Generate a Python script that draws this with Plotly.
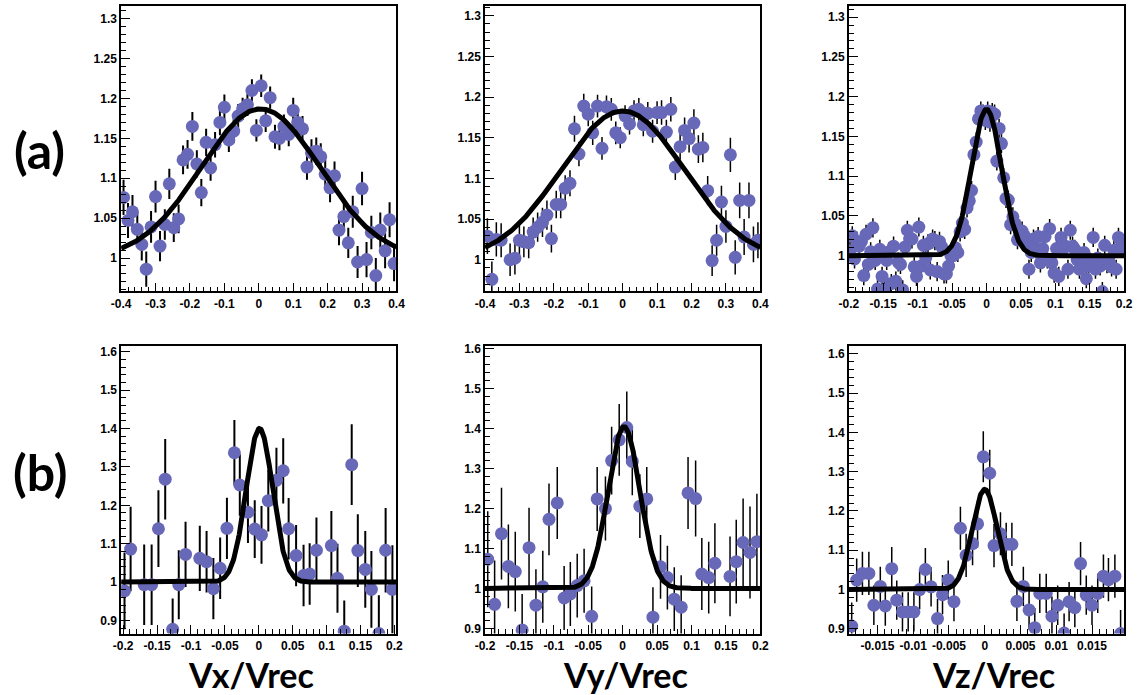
import numpy as np
import plotly.graph_objects as go

# ---------------- data ----------------
# Panel (a) Vx
x1 = [-0.393, -0.380, -0.367, -0.353, -0.340, -0.327, -0.313, -0.300, -0.287, -0.273,
      -0.260, -0.247, -0.233, -0.220, -0.207, -0.193, -0.180, -0.167, -0.153, -0.140,
      -0.127, -0.113, -0.100, -0.087, -0.073, -0.060, -0.047, -0.033, -0.020, -0.007,
      0.007, 0.020, 0.033, 0.047, 0.060, 0.073, 0.087, 0.100, 0.113, 0.127,
      0.140, 0.153, 0.167, 0.180, 0.193, 0.207, 0.220, 0.233, 0.247, 0.260,
      0.273, 0.287, 0.300, 0.313, 0.327, 0.340, 0.353, 0.367, 0.380, 0.393]
y1 = [1.076, 1.047, 1.058, 1.036, 1.017, 0.986, 1.039, 1.077, 1.015, 1.042,
      1.093, 1.038, 1.049, 1.123, 1.130, 1.165, 1.118, 1.082, 1.145, 1.113,
      1.142, 1.170, 1.189, 1.148, 1.159, 1.178, 1.187, 1.192, 1.210, 1.160,
      1.216, 1.172, 1.201, 1.152, 1.150, 1.165, 1.155, 1.185, 1.170, 1.162,
      1.114, 1.132, 1.134, 1.127, 1.105, 1.088, 1.103, 1.035, 1.052, 1.019,
      1.058, 0.995, 1.087, 0.998, 1.032, 0.978, 1.035, 1.009, 1.048, 0.993]
e1 = [0.022, 0.022, 0.021, 0.021, 0.020, 0.022, 0.020, 0.020, 0.019, 0.019,
      0.019, 0.018, 0.018, 0.018, 0.018, 0.018, 0.017, 0.017, 0.017, 0.016,
      0.016, 0.016, 0.016, 0.015, 0.015, 0.015, 0.014, 0.014, 0.014, 0.014,
      0.014, 0.014, 0.014, 0.015, 0.015, 0.015, 0.015, 0.016, 0.016, 0.016,
      0.016, 0.017, 0.017, 0.017, 0.018, 0.018, 0.018, 0.019, 0.019, 0.019,
      0.020, 0.020, 0.021, 0.022, 0.021, 0.022, 0.022, 0.022, 0.022, 0.022]

# Panel (a) Vy
x2 = [-0.393, -0.380, -0.367, -0.353, -0.327, -0.313, -0.300, -0.287, -0.273,
      -0.260, -0.247, -0.233, -0.220, -0.207, -0.193, -0.180, -0.167, -0.153, -0.140,
      -0.127, -0.113, -0.100, -0.087, -0.073, -0.060, -0.047, -0.033, -0.020, -0.007,
      0.007, 0.020, 0.033, 0.047, 0.060, 0.073, 0.087, 0.100, 0.113, 0.127,
      0.140, 0.153, 0.167, 0.180, 0.193, 0.207, 0.220, 0.233, 0.247, 0.260,
      0.273, 0.287, 0.300, 0.313, 0.327, 0.340, 0.353, 0.367, 0.380, 0.393]
y2 = [1.029, 0.976, 1.025, 1.024, 1.000, 1.002, 1.024, 1.022, 1.021, 1.034,
      1.040, 1.046, 1.055, 1.026, 1.068, 1.068, 1.088, 1.094, 1.161, 1.130,
      1.189, 1.179, 1.156, 1.189, 1.137, 1.188, 1.185, 1.156, 1.150, 1.177,
      1.167, 1.183, 1.185, 1.166, 1.180, 1.158, 1.181, 1.181, 1.157, 1.185,
      1.114, 1.139, 1.159, 1.149, 1.168, 1.136, 1.138, 1.085, 0.999, 1.024,
      1.071, 1.041, 1.129, 1.003, 1.073, 1.028, 1.073, 1.019, 1.024]
e2 = [0.022, 0.022, 0.021, 0.021, 0.020, 0.020, 0.019, 0.019, 0.019, 0.018,
      0.018, 0.018, 0.018, 0.017, 0.017, 0.017, 0.016, 0.016, 0.016, 0.015,
      0.015, 0.015, 0.015, 0.014, 0.014, 0.014, 0.014, 0.014, 0.013, 0.013,
      0.013, 0.013, 0.014, 0.014, 0.014, 0.014, 0.014, 0.015, 0.015, 0.015,
      0.016, 0.016, 0.016, 0.017, 0.017, 0.017, 0.018, 0.018, 0.019, 0.019,
      0.020, 0.020, 0.021, 0.021, 0.022, 0.022, 0.022, 0.022, 0.022]

# Panel (a) Vz
x3 = [-0.1983, -0.1950, -0.1917, -0.1883, -0.1850, -0.1817, -0.1783, -0.1750, -0.1717, -0.1683,
      -0.1650, -0.1617, -0.1583, -0.1550, -0.1517, -0.1483, -0.1450, -0.1417, -0.1383, -0.1350,
      -0.1317, -0.1283, -0.1250, -0.1217, -0.1183, -0.1150, -0.1117, -0.1083, -0.1050, -0.1017,
      -0.0983, -0.0950, -0.0917, -0.0883, -0.0850, -0.0817, -0.0783, -0.0750, -0.0717, -0.0683,
      -0.0650, -0.0617, -0.0583, -0.0550, -0.0517, -0.0483, -0.0450, -0.0417, -0.0383, -0.0350,
      -0.0317, -0.0283, -0.0250, -0.0217, -0.0183, -0.0150, -0.0117, -0.0083, -0.0050, -0.0017,
      0.0017, 0.0050, 0.0083, 0.0117, 0.0150, 0.0183, 0.0217, 0.0250, 0.0283, 0.0317,
      0.0350, 0.0383, 0.0417, 0.0450, 0.0483, 0.0517, 0.0550, 0.0583, 0.0617, 0.0650,
      0.0683, 0.0717, 0.0750, 0.0783, 0.0817, 0.0850, 0.0883, 0.0917, 0.0950, 0.0983,
      0.1017, 0.1050, 0.1083, 0.1117, 0.1150, 0.1183, 0.1217, 0.1250, 0.1283, 0.1317,
      0.1350, 0.1383, 0.1417, 0.1450, 0.1483, 0.1517, 0.1550, 0.1583, 0.1617, 0.1650,
      0.1683, 0.1717, 0.1750, 0.1783, 0.1817, 0.1850, 0.1883, 0.1917, 0.1950, 0.1983]
y3 = [1.006, 1.025, 0.996, 1.018, 1.012, 1.018, 0.975, 1.027, 0.989, 1.005,
      1.035, 0.994, 0.958, 1.008, 0.974, 0.957, 0.994, 1.005, 0.965, 1.012,
      0.968, 0.992, 0.989, 0.957, 1.011, 1.032, 1.021, 1.021, 0.986, 0.974,
      1.036, 0.987, 1.013, 0.997, 1.015, 0.982, 1.021, 1.019, 0.980, 1.018,
      1.011, 0.977, 0.977, 0.987, 1.000, 1.000, 1.010, 1.004, 1.030, 1.041,
      1.033, 1.060, 1.069, 1.082, 1.127, 1.143, 1.172, 1.182, 1.178, 1.170,
      1.182, 1.168, 1.180, 1.178, 1.119, 1.160, 1.141, 1.098, 1.072, 1.070,
      1.039, 1.049, 1.040, 1.020, 1.027, 1.031,
      1.025, 1.015, 0.983, 1.004, 1.021, 1.009, 1.024, 0.991, 1.009, 1.024,
      0.996, 1.034, 0.991, 0.978, 1.009, 0.974, 1.023, 1.009, 1.012, 0.983,
      1.032, 1.012, 1.008, 0.995, 0.983, 0.997, 1.004, 0.971, 0.987, 0.991,
      1.023, 0.983, 0.997, 0.987, 0.955, 1.013, 0.990, 0.991, 0.986, 1.007,
      0.983, 1.023, 1.011, 1.009]
e3 = 0.012

# Panel (b) Vx
x4 = [-0.198, -0.189, -0.169, -0.158, -0.148, -0.138, -0.127, -0.118, -0.108, -0.087,
      -0.077, -0.067, -0.057, -0.047, -0.036, -0.028, -0.016, -0.006, 0.004, 0.014,
      0.026, 0.036, 0.044, 0.055, 0.066, 0.075, 0.085, 0.107, 0.116, 0.126,
      0.137, 0.146, 0.157, 0.166, 0.177, 0.187, 0.197]
y4 = [0.977, 1.086, 0.993, 0.993, 1.139, 1.268, 0.877, 0.993, 1.072, 1.062,
      1.053, 0.983, 1.036, 1.140, 1.337, 1.253, 1.182, 1.138, 1.123, 1.212,
      1.265, 1.290, 1.139, 1.069, 1.017, 1.021, 1.083, 1.095, 1.010, 0.872,
      1.306, 1.082, 1.033, 0.981, 0.866, 1.083, 0.981]
e4 = [0.100, 0.110, 0.105, 0.105, 0.100, 0.105, 0.080, 0.090, 0.085, 0.085,
      0.080, 0.080, 0.080, 0.080, 0.085, 0.080, 0.080, 0.075, 0.075, 0.080,
      0.085, 0.085, 0.080, 0.080, 0.080, 0.080, 0.085, 0.090, 0.090, 0.080,
      0.105, 0.095, 0.100, 0.100, 0.100, 0.110, 0.115]

# Panel (b) Vy
x5 = [-0.196, -0.186, -0.176, -0.166, -0.156, -0.146, -0.136, -0.126, -0.116, -0.107,
      -0.095, -0.085, -0.076, -0.066, -0.056, -0.045, -0.037, -0.025, -0.016, -0.005,
      0.006, 0.014, 0.025, 0.035, 0.044, 0.055, 0.065, 0.075, 0.085, 0.095,
      0.106, 0.115, 0.125, 0.134, 0.156, 0.165, 0.175, 0.185, 0.195]
y5 = [1.073, 0.960, 1.137, 1.055, 1.042, 0.896, 1.102, 0.958, 1.004, 1.173,
      1.214, 0.976, 0.986, 1.007, 1.019, 0.930, 1.224, 1.200, 1.320, 1.372,
      1.403, 1.318, 1.206, 1.224, 0.928, 1.054, 1.027, 0.973, 0.953, 1.239,
      1.225, 1.036, 1.027, 1.063, 1.030, 1.067, 1.115, 1.090, 1.117]
e5 = [0.120, 0.110, 0.115, 0.105, 0.100, 0.090, 0.100, 0.090, 0.090, 0.090,
      0.090, 0.080, 0.080, 0.080, 0.080, 0.075, 0.080, 0.080, 0.085, 0.090,
      0.090, 0.085, 0.080, 0.080, 0.075, 0.080, 0.080, 0.080, 0.080, 0.090,
      0.095, 0.090, 0.090, 0.100, 0.100, 0.105, 0.110, 0.115, 0.120]

# Panel (b) Vz
x6 = [-0.0186, -0.0179, -0.0171, -0.0162, -0.0155, -0.0146, -0.0139, -0.0130, -0.0123, -0.0115,
      -0.0107, -0.0099, -0.0091, -0.0083, -0.0075, -0.0066, -0.0059, -0.0051, -0.0043, -0.0034,
      -0.0026, -0.0017, -0.0010, -0.0002, 0.0007, 0.0013, 0.0022, 0.0030, 0.0038, 0.0045,
      0.0054, 0.0062, 0.0070, 0.0077, 0.0086, 0.0094, 0.0102, 0.0111, 0.0118, 0.0126,
      0.0134, 0.0142, 0.0150, 0.0158, 0.0166, 0.0173, 0.0182, 0.0190]
y6 = [0.907, 1.024, 1.041, 1.041, 0.960, 1.008, 0.958, 1.053, 0.973, 0.943,
      0.943, 0.943, 1.000, 1.051, 1.007, 0.926, 0.987, 1.024, 0.969, 1.156,
      1.087, 1.117, 1.167, 1.338, 1.296, 1.112, 1.142, 1.115, 1.115, 0.970,
      1.008, 0.948, 0.903, 0.990, 0.990, 0.932, 0.960, 0.889, 0.969, 0.954,
      1.066, 0.986, 0.960, 0.990, 1.034, 1.025, 1.034, 0.888]
e6 = [0.060, 0.055, 0.055, 0.055, 0.050, 0.050, 0.050, 0.055, 0.050, 0.050,
      0.050, 0.050, 0.050, 0.055, 0.050, 0.050, 0.050, 0.050, 0.050, 0.055,
      0.055, 0.055, 0.060, 0.065, 0.060, 0.055, 0.055, 0.055, 0.055, 0.050,
      0.050, 0.050, 0.050, 0.050, 0.050, 0.050, 0.050, 0.050, 0.050, 0.050,
      0.055, 0.050, 0.050, 0.050, 0.055, 0.055, 0.055, 0.060]

# Gaussian fit parameters: (amplitude, mean, sigma), baseline 1
fit1 = (0.187, 0.005, 0.173)
fit2 = (0.183, 0.000, 0.179)
fit3 = (0.184, 0.000, 0.0218)
fit4 = (0.400, 0.001, 0.0195)
fit5 = (0.405, 0.002, 0.0230)
fit6 = (0.255, 0.000, 0.00175)

# tick values / labels
xt_wide = [-0.4, -0.3, -0.2, -0.1, 0, 0.1, 0.2, 0.3, 0.4]
xt_wide_lab = ["-0.4", "-0.3", "-0.2", "-0.1", "0", "0.1", "0.2", "0.3", "0.4"]
xt_mid = [-0.2, -0.15, -0.1, -0.05, 0, 0.05, 0.1, 0.15, 0.2]
xt_mid_lab = ["-0.2", "-0.15", "-0.1", "-0.05", "0", "0.05", "0.1", "0.15", "0.2"]
xt_z = [-0.015, -0.01, -0.005, 0, 0.005, 0.01, 0.015]
xt_z_lab = ["-0.015", "-0.01", "-0.005", "0", "0.005", "0.01", "0.015"]
yt_top = [1.0, 1.05, 1.1, 1.15, 1.2, 1.25, 1.3]
yt_top_lab = ["1", "1.05", "1.1", "1.15", "1.2", "1.25", "1.3"]
yt_bot = [0.9, 1.0, 1.1, 1.2, 1.3, 1.4, 1.5, 1.6]
yt_bot_lab = ["0.9", "1", "1.1", "1.2", "1.3", "1.4", "1.5", "1.6"]

row_labels = ["(a)", "(b)"]
col_titles = ["Vx/Vrec", "Vy/Vrec", "Vz/Vrec"]

# ---------------- layout geometry ----------------
W, H = 1144, 695
col_px = [(113, 393), (483, 763), (853, 1133)]
row_px = [(2, 290), (345, 635)]

panels = [
    dict(x=x1, y=y1, e=e1, fit=fit1, xr=[-0.4, 0.4], yr=[0.958, 1.316],
         xt=(xt_wide, xt_wide_lab, 0.02), yt=(yt_top, yt_top_lab, 0.01), r=0, c=0, th=2.0),
    dict(x=x2, y=y2, e=e2, fit=fit2, xr=[-0.4, 0.4], yr=[0.961, 1.312],
         xt=(xt_wide, xt_wide_lab, 0.02), yt=(yt_top, yt_top_lab, 0.01), r=0, c=1, th=1.5),
    dict(x=x3, y=y3, e=e3, fit=fit3, xr=[-0.2, 0.2], yr=[0.955, 1.314],
         xt=(xt_mid, xt_mid_lab, 0.01), yt=(yt_top, yt_top_lab, 0.01), r=0, c=2, th=1.5),
    dict(x=x4, y=y4, e=e4, fit=fit4, xr=[-0.203, 0.203], yr=[0.866, 1.615],
         xt=(xt_mid, xt_mid_lab, 0.01), yt=(yt_bot, yt_bot_lab, 0.02), r=1, c=0, th=2.0),
    dict(x=x5, y=y5, e=e5, fit=fit5, xr=[-0.2, 0.2], yr=[0.887, 1.607],
         xt=(xt_mid, xt_mid_lab, 0.01), yt=(yt_bot, yt_bot_lab, 0.02), r=1, c=1, th=1.5),
    dict(x=x6, y=y6, e=e6, fit=fit6, xr=[-0.019, 0.0195], yr=[0.888, 1.62],
         xt=(xt_z, xt_z_lab, 0.001), yt=(yt_bot, yt_bot_lab, 0.02), r=1, c=2, th=1.5),
]

fig = go.Figure()
tickfont = dict(family="Liberation Sans, Arial, sans-serif", size=12, color="black", weight="bold")
marker_color = "#6868b8"

layout_axes = {}
for i, p in enumerate(panels, start=1):
    xa = "x" if i == 1 else f"x{i}"
    ya = "y" if i == 1 else f"y{i}"
    err = dict(type="data", color="black", thickness=p["th"], width=0)
    if isinstance(p["e"], list):
        err["array"] = p["e"]
    else:
        err["value"] = p["e"]
        err["type"] = "constant"
    fig.add_trace(go.Scatter(x=p["x"], y=p["y"], mode="markers", xaxis=xa, yaxis=ya,
                             marker=dict(size=13, color=marker_color, line=dict(width=0)),
                             error_y=err, showlegend=False, hoverinfo="x+y"))
    A, mu, sg = p["fit"]
    xf = np.linspace(p["xr"][0], p["xr"][1], 600)
    yf = 1.0 + A * np.exp(-(xf - mu) ** 2 / (2 * sg ** 2))
    fig.add_trace(go.Scatter(x=xf, y=yf, mode="lines", xaxis=xa, yaxis=ya,
                             line=dict(color="black", width=5), showlegend=False,
                             hoverinfo="skip"))
    c0, c1 = col_px[p["c"]]
    r0, r1 = row_px[p["r"]]
    common = dict(showline=True, linecolor="black", linewidth=1.5, mirror=True,
                  ticks="inside", ticklen=9, tickwidth=1, tickcolor="black",
                  showgrid=False, zeroline=False, tickfont=tickfont, tickmode="array",
                  fixedrange=True)
    xkey = "xaxis" if i == 1 else f"xaxis{i}"
    ykey = "yaxis" if i == 1 else f"yaxis{i}"
    layout_axes[xkey] = dict(common, domain=[c0 / W, c1 / W], range=p["xr"], anchor=ya,
                             tickvals=p["xt"][0], ticktext=p["xt"][1],
                             minor=dict(ticks="inside", ticklen=5, tickwidth=1, tickcolor="black",
                                        dtick=p["xt"][2], tick0=0, showgrid=False))
    layout_axes[ykey] = dict(common, domain=[1 - r1 / H, 1 - r0 / H], range=p["yr"], anchor=xa,
                             tickvals=p["yt"][0], ticktext=p["yt"][1],
                             minor=dict(ticks="inside", ticklen=5, tickwidth=1, tickcolor="black",
                                        dtick=p["yt"][2], tick0=0, showgrid=False))

annotations = []
label_font = dict(family="Lato, Open Sans, sans-serif", size=50, color="black", weight="bold")
for lab, yc in zip(row_labels, [147, 472]):
    annotations.append(dict(text=lab, x=30 / W, y=1 - yc / H, xref="paper", yref="paper",
                            showarrow=False, xanchor="center", yanchor="middle", font=label_font))
title_font = dict(family="Lato, Open Sans, sans-serif", size=34, color="black", weight="bold")
for t, xc in zip(col_titles, [245, 626, 1000]):
    annotations.append(dict(text=t, x=xc / W, y=1 - 676 / H, xref="paper", yref="paper",
                            showarrow=False, xanchor="center", yanchor="middle", font=title_font))

fig.update_layout(width=W, height=H, autosize=False,
                  margin=dict(l=0, r=0, t=0, b=0, pad=0),
                  paper_bgcolor="white", plot_bgcolor="white",
                  annotations=annotations, **layout_axes)

fig.write_html("out.html", include_plotlyjs=True, full_html=True,
               config={"displayModeBar": False},
               post_script="document.body.style.margin='0';")
